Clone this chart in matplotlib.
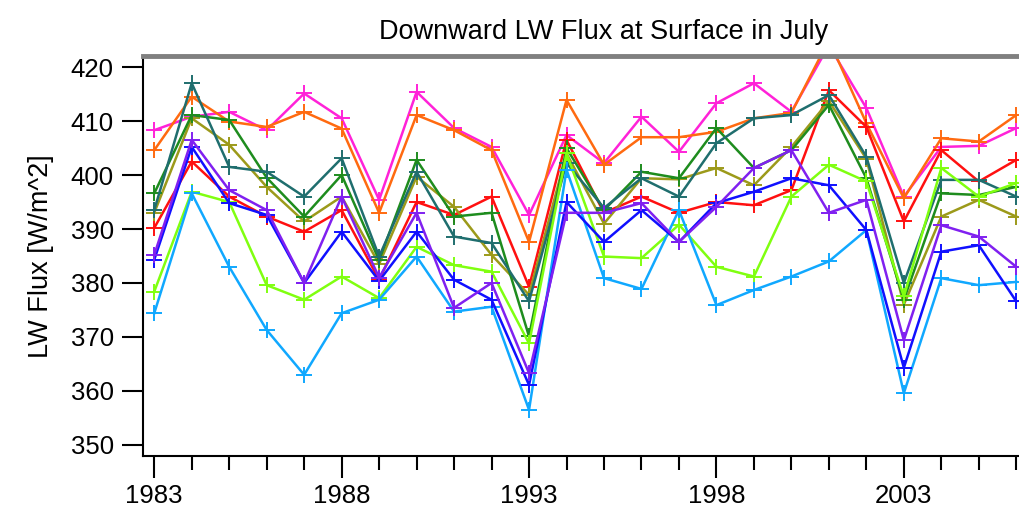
import numpy as np
import matplotlib
matplotlib.use('Agg')
import matplotlib.pyplot as plt

plt.rcParams['font.family'] = ['Liberation Sans', 'DejaVu Sans']

years = np.arange(1983, 2007)

# one list per model
magenta = [408.3, 410.8, 411.7, 408.3, 415.1, 410.5, 395.4, 415.4, 408.7, 405.2, 392.6, 407.4,
           402.2, 410.8, 404.3, 413.3, 417.0, 411.7, 424.0, 412.4, 396.0, 405.2, 405.4, 408.7]
orange = [404.6, 414.5, 409.9, 408.9, 411.7, 408.6, 393.0, 411.1, 408.3, 404.6, 387.6, 413.9,
          401.9, 407.0, 407.0, 408.0, 410.5, 411.5, 425.0, 409.6, 395.7, 406.8, 406.2, 411.1]
red = [390.2, 402.5, 396.0, 392.3, 389.5, 393.5, 380.6, 395.0, 392.6, 396.0, 379.3, 406.5,
       393.0, 396.0, 393.0, 395.0, 394.4, 397.2, 415.7, 408.9, 391.4, 404.6, 398.8, 402.8]
olive = [393.0, 410.5, 405.6, 397.8, 391.4, 396.0, 383.5, 399.7, 394.1, 385.2, 377.8, 404.0,
         391.0, 399.4, 399.2, 401.3, 398.1, 405.2, 413.7, 403.0, 376.0, 392.3, 395.4, 392.3]
green = [396.6, 411.1, 410.2, 399.5, 392.3, 400.0, 384.2, 402.8, 392.3, 393.0, 370.1, 405.0,
         393.5, 400.6, 399.4, 408.7, 401.3, 404.6, 413.0, 399.4, 376.9, 396.6, 396.3, 397.8]
teal = [393.5, 417.0, 401.5, 400.6, 396.0, 403.1, 384.9, 400.6, 388.6, 387.4, 376.6, 402.2,
        393.9, 399.4, 396.0, 405.9, 410.5, 411.1, 414.8, 403.4, 380.0, 399.1, 399.1, 396.0]
lightgreen = [378.4, 396.9, 395.0, 379.6, 376.9, 381.2, 377.2, 386.7, 383.3, 382.1, 368.8, 404.0,
              384.9, 384.6, 390.8, 383.0, 381.2, 396.0, 401.9, 398.8, 377.5, 401.3, 396.0, 398.5]
lightblue = [374.4, 396.6, 383.0, 371.3, 363.0, 374.4, 376.9, 384.9, 374.7, 375.6, 356.5, 401.0,
             380.9, 378.9, 393.5, 375.9, 378.7, 381.2, 384.0, 389.8, 359.6, 380.9, 379.6, 380.2]
purple = [385.2, 406.5, 397.2, 393.5, 380.0, 396.0, 381.0, 393.0, 375.4, 380.0, 363.3, 393.0,
          393.0, 394.8, 387.6, 394.1, 401.3, 404.6, 393.0, 395.4, 369.4, 390.7, 388.6, 383.0]
blue = [384.3, 405.2, 394.8, 392.6, 380.0, 389.5, 380.4, 389.5, 380.6, 376.9, 361.1, 395.0,
        387.6, 393.5, 387.6, 394.8, 396.9, 399.4, 398.1, 389.8, 364.3, 385.8, 387.0, 376.6]

series = [
    (magenta, '#ff22d8'),
    (orange, '#ff6a10'),
    (red, '#ff1010'),
    (olive, '#9c9a1a'),
    (green, '#1e8c1e'),
    (teal, '#1f6e6e'),
    (lightgreen, '#80ff10'),
    (lightblue, '#10a8ff'),
    (blue, '#1010ff'),
    (purple, '#8020f0'),
]

fig = plt.figure(figsize=(10.19, 5.12), dpi=100)
# the original plot runs past the right edge of the picture
ax = fig.add_axes([143 / 1019, 56 / 512, (1065 - 143) / 1019, 400 / 512])

for vals, col in series:
    ax.plot(years, vals, color=col, lw=1.8, marker='+', ms=11, mew=1.4)

ax.set_xlim(1982.7, 2007.3)
ax.set_ylim(347.96, 422.04)
ax.set_xticks(np.arange(1983, 2007, 5))
ax.set_xticks(np.arange(1983, 2008, 1), minor=True)
ax.set_yticks(np.arange(350, 421, 10))

ax.tick_params(axis='y', which='major', direction='out', length=15, width=1.5, labelsize=18.5, pad=6)
ax.tick_params(axis='x', which='major', direction='out', length=16, width=1.5, labelsize=18.5, pad=4)
ax.tick_params(axis='x', which='minor', direction='out', length=10, width=1.5)

ax.spines['left'].set_linewidth(1.5)
ax.spines['bottom'].set_linewidth(1.5)
ax.spines['top'].set_color('#808080')
ax.spines['top'].set_linewidth(3.5)
ax.spines['right'].set_visible(False)

ax.set_title('Downward LW Flux at Surface in July', fontsize=19.5, pad=12)
ax.set_ylabel('LW Flux [W/m^2]', fontsize=19.5, labelpad=12)

fig.savefig('out.png', dpi=100)
